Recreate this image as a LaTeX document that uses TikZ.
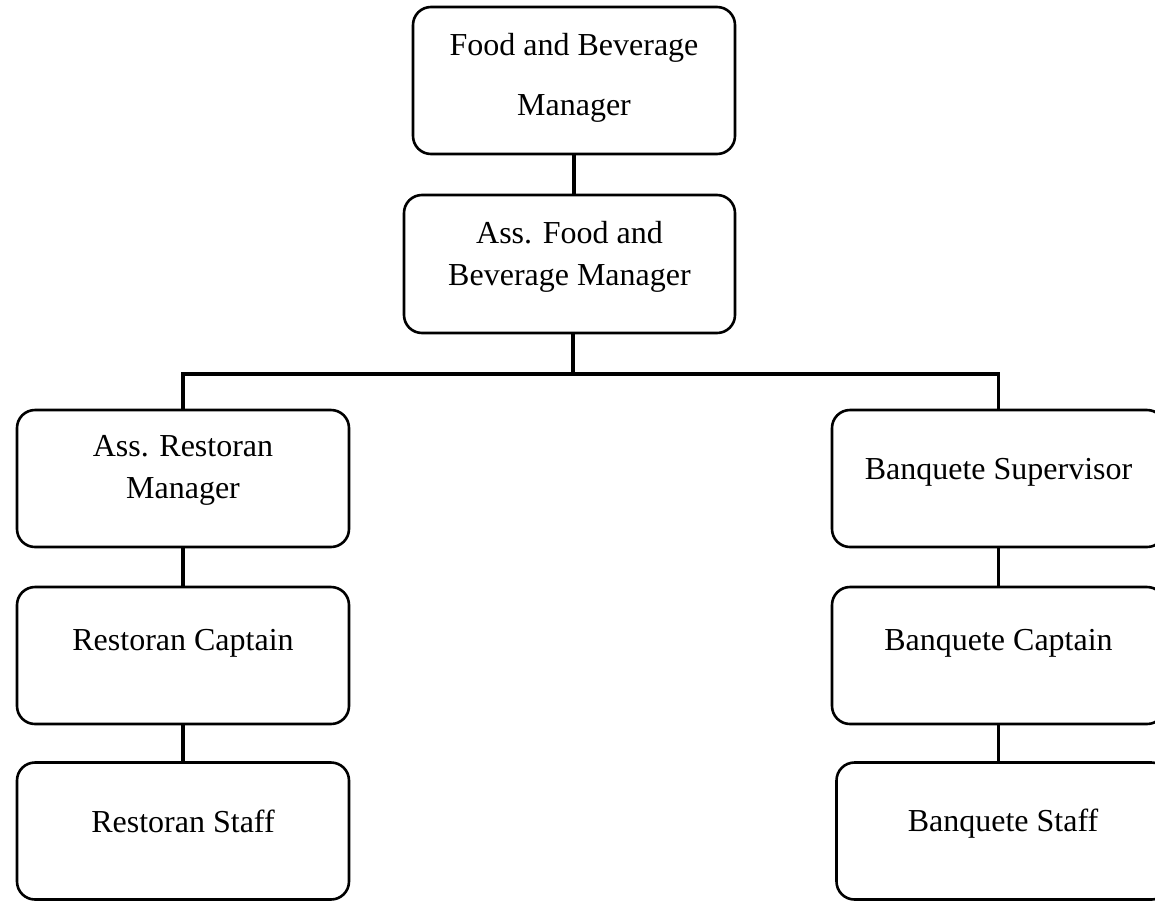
\documentclass[tikz,border=0pt]{standalone}
\usepackage{fontspec}
\setmainfont{Liberation Serif}

\begin{document}
\begin{tikzpicture}[x=0.5pt,y=-0.5pt,
		box/.style={draw,line width=1.3pt,rounded corners=9pt,minimum width=166pt,minimum height=68.5pt,inner sep=0pt},
		txt/.style={align=center,font=\fontsize{16}{21}\selectfont},
		conn/.style={line width=1.7pt}]
	\useasboundingbox (0,0) rectangle (1155,900);
	
	% top of the chart
	\node[box,minimum width=161pt,minimum height=73.5pt] (fbm) at (574,80.5) {};
	\node[txt,yshift=1.5pt] (fbmtxt) at (fbm) {Food and Beverage\\[9pt]Manager};
	\node[box,minimum width=165.5pt,minimum height=69pt] (afbm) at (569.5,264) {};
	\node[txt,yshift=3.5pt] (afbmtxt) at (afbm) {Ass. Food and\\Beverage Manager};
	\draw[conn] (fbm.south) -- (fbm.south |- afbm.north);
	
	% restoran side
	\node[box] (arm) at (183,478.5) {};
	\node[txt,yshift=4pt] (armtxt) at (arm) {Ass. Restoran\\Manager};
	\node[box] (rcap) at (183,655.5) {};
	\node[txt,yshift=6pt] (rcaptxt) at (rcap) {Restoran Captain};
	\node[box] (rstaff) at (183,831) {};
	\node[txt,yshift=5pt] (rstafftxt) at (rstaff) {Restoran Staff};
	
	% banquete side
	\node[box,minimum width=166.5pt] (bsup) at (998.5,478.5) {};
	\node[txt,yshift=3pt] (bsuptxt) at (bsup) {Banquete Supervisor};
	\node[box,minimum width=166.5pt] (bcap) at (998.5,655.5) {};
	\node[txt,yshift=6pt] (bcaptxt) at (bcap) {Banquete Captain};
	\node[box,minimum width=166.5pt] (bstaff) at (1003,831) {};
	\node[txt,yshift=3.5pt] (bstafftxt) at (bstaff) {Banquete Staff};
	
	\coordinate (bus) at (573,374);
	\draw[conn] (afbm.south -| bus) -- (bus);
	\draw[conn] (arm.north) -- (arm.north |- bus) -- (bsup.north |- bus) -- (bsup.north);
	\draw[conn] (arm.south) -- (arm.south |- rcap.north);
	\draw[conn] (rcap.south) -- (rcap.south |- rstaff.north);
	\draw[conn] (bsup.south) -- (bsup.south |- bcap.north);
	\draw[conn] (bcap.south) -- (bcap.south |- bstaff.north);
\end{tikzpicture}
\end{document}
